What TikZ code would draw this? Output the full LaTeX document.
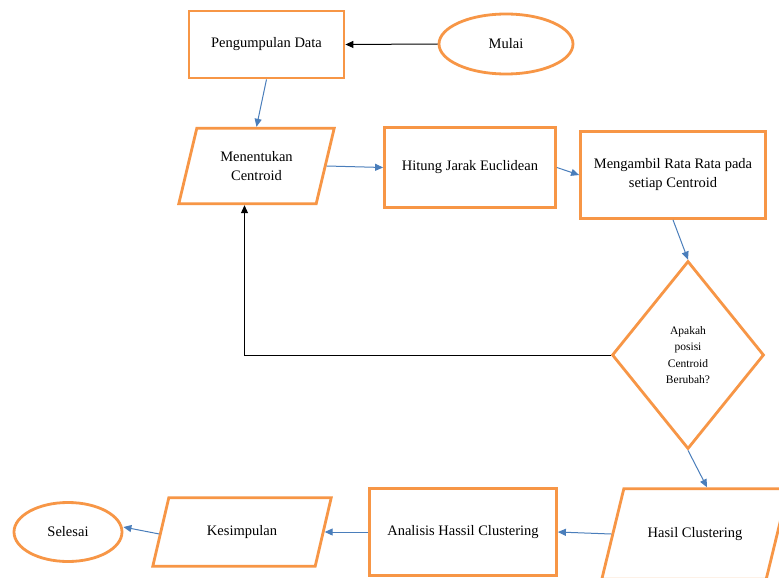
\documentclass[tikz,border=0pt]{standalone}
\usepackage{fontspec}
\setmainfont{Liberation Serif}
\usetikzlibrary{shapes.geometric,arrows.meta}
\definecolor{orng}{HTML}{F79646}
\definecolor{arblue}{HTML}{4A7EBB}
\tikzset{
  txt/.style={font=\fontsize{14.5}{19}\selectfont, align=center, text=black},
  boxnode/.style={txt, draw=orng, line width=2.8pt, rectangle, inner sep=0pt},
  ellnode/.style={txt, draw=orng, line width=2.8pt, ellipse, inner sep=0pt},
  paranode/.style={txt, rectangle, inner sep=0pt},
  paraline/.style={draw=orng, line width=2.8pt, line join=miter},
  decnode/.style={draw=orng, line width=2.8pt, diamond, inner sep=0pt, align=center, font=\fontsize{11.5}{16.5}\selectfont},
  bluearrow/.style={draw=arblue, line width=1pt, -{Triangle[length=8pt,width=7pt]}},
  blackarrow/.style={draw=black, line width=1pt, -{Triangle[length=8pt,width=7pt]}}
}
% #1 node name, #2 half horizontal slant
\newcommand{\paraoutline}[2]{%
  \draw[paraline] ([xshift=-#2]#1.south west) -- ([xshift=-#2]#1.south east)
    -- ([xshift=#2]#1.north east) -- ([xshift=#2]#1.north west) -- cycle;}
\begin{document}
\begin{tikzpicture}[x=1pt,y=-1pt]
\useasboundingbox (0,0) rectangle (779,578);
\clip (0,0) rectangle (779,578);
\fill[white] (0,0) rectangle (779,578);
\node[boxnode, minimum width=155pt, minimum height=67pt] (pd) at (266.5,44.5) {Pengumpulan Data};
\node[ellnode, minimum width=134pt, minimum height=60pt] (mulai) at (506,44) {Mulai};
\node[paranode, minimum width=137pt, minimum height=75pt] (ment) at (256.5,166) {Menentukan\\Centroid};
\paraoutline{ment}{9pt}
\node[boxnode, minimum width=171pt, minimum height=80pt] (hitung) at (470,167.5) {Hitung Jarak Euclidean};
\node[boxnode, minimum width=185pt, minimum height=87pt] (meng) at (673,175) {Mengambil Rata Rata pada\\setiap Centroid};
\node[decnode, minimum width=152pt, minimum height=188pt] (dec) at (688,355) {Apakah\\posisi\\Centroid\\Berubah?};
\node[paranode, minimum width=164pt, minimum height=90pt] (hasil) at (695,534) {Hasil Clustering};
\paraoutline{hasil}{11pt}
\node[boxnode, minimum width=187pt, minimum height=87pt] (anal) at (463,532) {Analisis Hassil Clustering};
\node[paranode, minimum width=162pt, minimum height=68pt] (kes) at (242,532) {Kesimpulan};
\paraoutline{kes}{8pt}
\node[ellnode, minimum width=108pt, minimum height=59pt] (sel) at (68,532) {Selesai};

\draw[blackarrow] (mulai.west) -- (pd.east);
\draw[bluearrow] (pd.south) -- ([yshift=1.5pt]ment.north);
\draw[bluearrow] ([xshift=1.5pt]ment.east) -- (hitung.west);
\draw[bluearrow] (hitung.east) -- (meng.west);
\draw[bluearrow] (meng.south) -- (dec.north);
\draw[bluearrow] (dec.south) -- ([xshift=12pt,yshift=1.5pt]hasil.north);
\draw[bluearrow] ([xshift=-1.5pt]hasil.west) -- (anal.east);
\draw[bluearrow] (anal.west) -- ([xshift=1.5pt]kes.east);
\draw[bluearrow] ([xshift=-1.5pt,yshift=-2pt]kes.west) -- ([yshift=5pt]sel.east);
\draw[blackarrow] (dec.west) -| ([xshift=-12pt,yshift=-1.5pt]ment.south);
\end{tikzpicture}
\end{document}
